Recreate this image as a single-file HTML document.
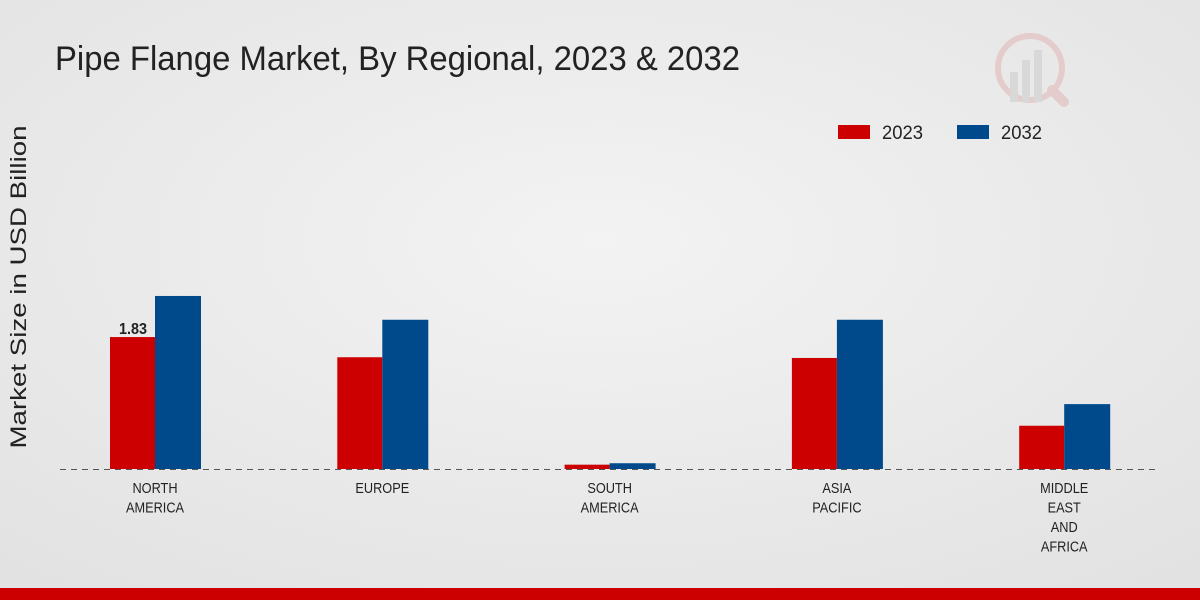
<!DOCTYPE html>
<html><head><meta charset="utf-8"><style>
body{margin:0;width:1200px;height:600px;overflow:hidden;font-family:"Liberation Sans",sans-serif}
</style></head><body>
<svg id="chart" width="1200" height="600" xmlns="http://www.w3.org/2000/svg">
<defs><radialGradient id="bg" cx="50%" cy="40%" r="75%"><stop offset="0" stop-color="#f3f3f3"/><stop offset="1" stop-color="#e2e2e2"/></radialGradient></defs>
<rect width="1200" height="600" fill="url(#bg)"/>
<rect y="588" width="1200" height="12" fill="#cc0000"/>
<text x="55" y="70" font-size="34" fill="#222" textLength="685" lengthAdjust="spacingAndGlyphs">Pipe Flange Market, By Regional, 2023 &amp; 2032</text>
<text transform="translate(26,287) rotate(-90)" text-anchor="middle" font-size="22" fill="#222" textLength="323" lengthAdjust="spacingAndGlyphs">Market Size in USD Billion</text>
<g opacity="0.35">
<circle cx="1030" cy="68" r="32" fill="none" stroke="#d99" stroke-width="6"/>
<rect x="1010" y="72" width="8" height="30" fill="#bbb"/><rect x="1022" y="60" width="8" height="42" fill="#bbb"/><rect x="1034" y="50" width="8" height="52" fill="#bbb"/>
<line x1="1052" y1="90" x2="1064" y2="102" stroke="#d99" stroke-width="10" stroke-linecap="round"/>
</g>
<g>
<rect x="838" y="125" width="32" height="14" fill="#cc0000"/>
<text x="882" y="139" font-size="19" fill="#222" textLength="41" lengthAdjust="spacingAndGlyphs">2023</text>
<rect x="957" y="125" width="32" height="14" fill="#004a8c"/>
<text x="1001" y="139" font-size="19" fill="#222" textLength="41" lengthAdjust="spacingAndGlyphs">2032</text>
</g>
<g id="bars"></g>
<line x1="60" y1="469.5" x2="1160" y2="469.5" stroke="#555" stroke-dasharray="6,5"/>
<g id="labels"></g>
</svg>
<script>
const categories=[["NORTH","AMERICA"],["EUROPE"],["SOUTH","AMERICA"],["ASIA","PACIFIC"],["MIDDLE","EAST","AND","AFRICA"]];
const values2023=[1.83,1.55,0.06,1.54,0.60];
const values2032=[2.40,2.07,0.08,2.07,0.90];
const ns="http://www.w3.org/2000/svg";
const baseY=469,scale=72.1;
const y=v=>baseY-v*scale;
const cx=i=>155+i*227.3;
const bars=document.getElementById('bars'),labels=document.getElementById('labels');
function mk(tag,attrs,parent){const e=document.createElementNS(ns,tag);for(const k in attrs)e.setAttribute(k,attrs[k]);parent.appendChild(e);return e;}
categories.forEach((c,i)=>{
 const b1=mk('rect',{x:cx(i)-45,y:y(values2023[i]),width:45,height:values2023[i]*scale,fill:'#cc0000'},bars);
 
 
 const b2=mk('rect',{x:cx(i),y:y(values2032[i]),width:46,height:values2032[i]*scale,fill:'#004a8c'},bars);
 
 
 const t=mk('text',{transform:'translate('+cx(i)+',0) scale(0.85,1)','text-anchor':'middle','font-size':15,fill:'#222'},labels);
 
 
 c.forEach((line,j)=>{const s=mk('tspan',{x:0,y:493+j*19.5},t);s.textContent=line;});
});
const v=mk('text',{transform:'translate('+(cx(0)-22)+','+(y(values2023[0])-3)+') scale(0.9,1)','text-anchor':'middle','font-size':16,'font-weight':'bold',fill:'#222'},labels);


v.textContent=values2023[0].toFixed(2);
</script>
</body></html>
